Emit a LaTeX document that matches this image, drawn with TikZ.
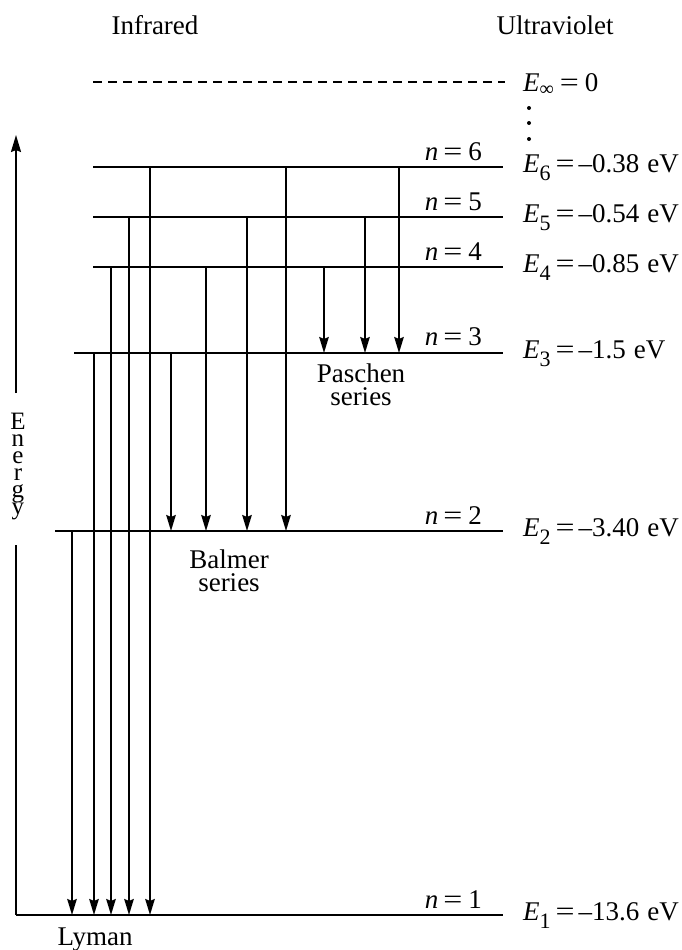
\documentclass[tikz,border=0pt]{standalone}
\usepackage{fontspec}
\usepackage{graphicx}
\setmainfont{Liberation Serif}
\usetikzlibrary{arrows.meta}
\newcommand{\lsub}[1]{\raisebox{-8pt}{\fontsize{22}{22}\selectfont #1}}
\newcommand{\bigeq}{\scalebox{1.25}[1]{=}}
\newcommand{\elab}[2]{\textit{E}\lsub{#1}\hspace{5pt}\bigeq\hspace{4pt}#2}
\newcommand{\ev}[1]{–#1\hspace{8pt}eV}
\newcommand{\nlab}[1]{\textit{n}\hspace{5pt}\bigeq\hspace{6pt}#1}
\begin{document}
\begin{tikzpicture}[x=1pt,y=-1pt,
  level/.style={line width=1.9pt},
  trans/.style={line width=1.9pt,-{Stealth[length=16pt,width=9.5pt,inset=2pt]}},
  lbl/.style={font=\fontsize{27}{30}\selectfont,inner sep=0pt},
  nlbl/.style={lbl,anchor=base east},
  elbl/.style={lbl,anchor=base west},
  elet/.style={font=\fontsize{25}{25}\selectfont,inner sep=0pt,anchor=base,text height=14pt,text depth=0pt}]
\useasboundingbox (0,0) rectangle (681,950);
% level ends
\coordinate (Linf) at (93,82);  \coordinate (Rinf) at (505,82);
\coordinate (L6) at (93,167);   \coordinate (R6) at (503,167);
\coordinate (L5) at (93,217);   \coordinate (R5) at (503,217);
\coordinate (L4) at (93,267);   \coordinate (R4) at (503,267);
\coordinate (L3) at (74,353);   \coordinate (R3) at (503,353);
\coordinate (L2) at (55,531);   \coordinate (R2) at (503,531);
\coordinate (L1) at (16,915);   \coordinate (R1) at (503,915);
% levels
\draw[level,dashed,dash pattern=on 9pt off 6pt] (Linf) -- (Rinf);
\foreach \k in {6,5,4,3,2,1} {\draw[level] (L\k) -- (R\k);}
% energy axis
\coordinate (Atop) at (16,135);
\coordinate (Agap1) at (16,393);
\coordinate (Agap2) at (16,545);
\draw[line width=1.9pt,-{Stealth[length=17pt,width=10pt,inset=2pt]}] (Agap1) -- (Atop);
\draw[line width=1.9pt] (Agap2) -- (L1);
\foreach \c [count=\i] in {E,n,e,r,g,y}
  {\node[elet] (en\i) at (18,{429+17*(\i-1)}) {\c};}
% transitions
\foreach \x/\a/\b in {72/531/915, 94/353/915, 111/267/915, 129/217/915, 150/167/915,
  171/353/531, 206/267/531, 247/217/531, 286/167/531,
  324/267/353, 365/217/353, 399/167/353}
  {\coordinate (s\x) at (\x,\a); \coordinate (e\x) at (\x,\b); \draw[trans] (s\x) -- (e\x);}
% n labels
\node[nlbl] (n6) at (482,160) {\nlab{6}};
\node[nlbl] (n5) at (482,210) {\nlab{5}};
\node[nlbl] (n4) at (482,260) {\nlab{4}};
\node[nlbl] (n3) at (482,345) {\nlab{3}};
\node[nlbl] (n2) at (482,524) {\nlab{2}};
\node[nlbl] (n1) at (482,908) {\nlab{1}};
% energies
\node[elbl] (einf) at (523,91) {\textit{E}\raisebox{-5pt}{\fontsize{20}{20}\selectfont ∞}\hspace{6pt}\bigeq\hspace{6pt}0};
\node[elbl] (e6) at (523,172) {\elab{6}{\ev{0.38}}};
\node[elbl] (e5) at (523,222) {\elab{5}{\ev{0.54}}};
\node[elbl] (e4) at (523,272) {\elab{4}{\ev{0.85}}};
\node[elbl] (e3) at (523,358) {\elab{3}{\ev{1.5}}};
\node[elbl] (e2) at (523,536) {\elab{2}{\ev{3.40}}};
\node[elbl] (e1) at (523,920) {\elab{1}{\ev{13.6}}};
% dots
\foreach \y [count=\i] in {108,123,139} {\fill (529,\y) circle (2pt) coordinate (dot\i);}
% series labels
\node[lbl] (ir) at (155,25) {Infrared};
\node[lbl] (uv) at (555,25) {Ultraviolet};
\node[lbl,align=center,font={\fontsize{27}{23}\selectfont}] (pas) at (361,385) {Paschen\\series};
\node[lbl,align=center,font={\fontsize{27}{23}\selectfont}] (bal) at (229,571) {Balmer\\series};
\node[lbl] (lym) at (95,940) {Lyman};
\end{tikzpicture}
\end{document}
